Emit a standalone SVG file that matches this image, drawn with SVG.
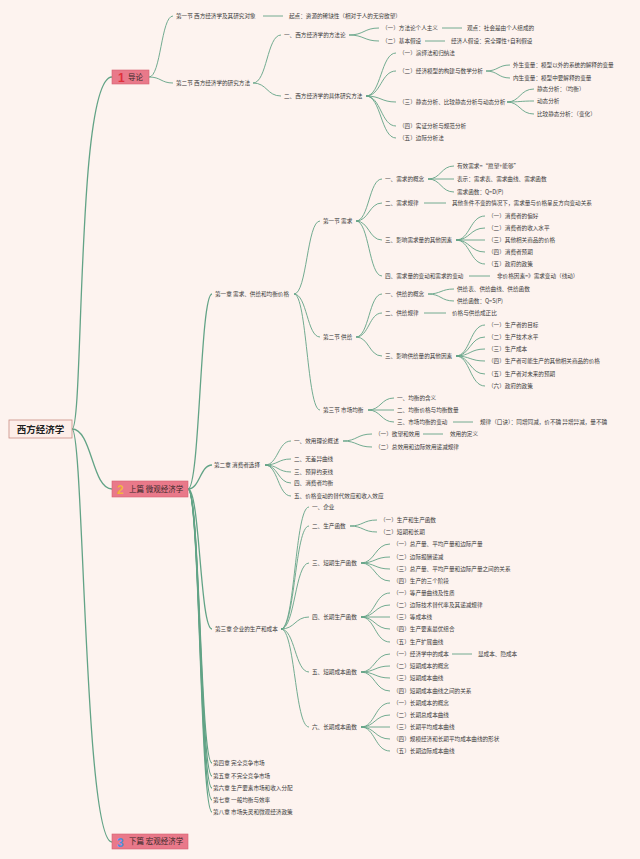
<svg xmlns="http://www.w3.org/2000/svg" width="640" height="859" viewBox="0 0 640 859">
<style>
.t{font-family:"Noto Sans CJK SC","Noto Sans",sans-serif;font-size:5.6px;fill:#3a3a3a}
.c path{fill:none;stroke:#62a386;stroke-width:0.9}
.c .k{stroke-width:1.3}
.b{fill:#e9798a;stroke:#d6606f;stroke-width:0.6}
.bt{font-family:"Noto Sans CJK SC",sans-serif;font-size:7.5px;fill:#3a2a2a}
.num{font-family:"Liberation Sans",sans-serif;font-weight:bold;font-size:12px}
.rt{font-family:"Noto Sans CJK SC",sans-serif;font-size:9.5px;font-weight:bold;fill:#222}
</style>
<rect width="640" height="859" fill="#fdf3ef"/>
<g class="c" id="connectors">
<path class="k" d="M72 429C84 429,76 77,112 77"/>
<path class="k" d="M72 429C92 429,92 489,112 489"/>
<path class="k" d="M72 429C84 429,84 842,112 842"/>
<path d="M149 77C161 77,161 16,173 16"/>
<path d="M149 77C161 77,161 83,173 83"/>
<path d="M263 16H283"/>
<path d="M253 83C267 83,267 35,281 35"/>
<path d="M253 83C267 83,267 96,281 96"/>
<path d="M349 35C364 35,364 28,379 28"/>
<path d="M349 35C364 35,364 41,379 41"/>
<path d="M442 28H462"/>
<path d="M425 41H445"/>
<path d="M366 96C381 96,381 53,396 53"/>
<path d="M366 96C381 96,381 71,396 71"/>
<path d="M366 96C381 96,381 102,396 102"/>
<path d="M366 96C381 96,381 126,396 126"/>
<path d="M366 96C381 96,381 138,396 138"/>
<path d="M486 71C498 71,498 65,510 65"/>
<path d="M486 71C498 71,498 78,510 78"/>
<path d="M507 102C520 102,520 89,534 89"/>
<path d="M507 102C520 102,520 101,534 101"/>
<path d="M507 102C520 102,520 114,534 114"/>
<path class="k" d="M188 489C200 489,200 294,212 294"/>
<path class="k" d="M188 489C200 489,200 465,212 465"/>
<path class="k" d="M188 489C200 489,200 629,212 629"/>
<path class="k" d="M188 489C200 489,200 763,212 763"/>
<path class="k" d="M188 489C200 489,200 776,212 776"/>
<path class="k" d="M188 489C200 489,200 788,212 788"/>
<path class="k" d="M188 489C200 489,200 800,212 800"/>
<path class="k" d="M188 489C200 489,200 812,212 812"/>
<path d="M294 294C307 294,307 221,320 221"/>
<path d="M294 294C307 294,307 337,320 337"/>
<path d="M294 294C307 294,307 410,320 410"/>
<path d="M356 221C369 221,369 179,382 179"/>
<path d="M356 221C369 221,369 203,382 203"/>
<path d="M356 221C369 221,369 240,382 240"/>
<path d="M356 221C369 221,369 276,382 276"/>
<path d="M428 179C441 179,441 166,454 166"/>
<path d="M428 179H454"/>
<path d="M428 179C441 179,441 192,454 192"/>
<path d="M424 203H446"/>
<path d="M456 240C470 240,470 216,485 216"/>
<path d="M456 240C470 240,470 228,485 228"/>
<path d="M456 240H485"/>
<path d="M456 240C470 240,470 252,485 252"/>
<path d="M456 240C470 240,470 264,485 264"/>
<path d="M469 276H490"/>
<path d="M356 337C369 337,369 294,382 294"/>
<path d="M356 337C369 337,369 313,382 313"/>
<path d="M356 337C369 337,369 356,382 356"/>
<path d="M428 294C441 294,441 289,454 289"/>
<path d="M428 294C441 294,441 301,454 301"/>
<path d="M424 313H446"/>
<path d="M456 356C470 356,470 325,485 325"/>
<path d="M456 356C470 356,470 337,485 337"/>
<path d="M456 356C470 356,470 349,485 349"/>
<path d="M456 356C470 356,470 361,485 361"/>
<path d="M456 356C470 356,470 374,485 374"/>
<path d="M456 356C470 356,470 386,485 386"/>
<path d="M368 410C381 410,381 398,394 398"/>
<path d="M368 410H394"/>
<path d="M368 410C381 410,381 422,394 422"/>
<path d="M453 422H473"/>
<path d="M265 465C278 465,278 441,291 441"/>
<path d="M265 465C278 465,278 459,291 459"/>
<path d="M265 465C278 465,278 472,291 472"/>
<path d="M265 465C278 465,278 483,291 483"/>
<path d="M265 465C278 465,278 496,291 496"/>
<path d="M343 441C357 441,357 434,372 434"/>
<path d="M343 441C357 441,357 447,372 447"/>
<path d="M423 434H443"/>
<path d="M281 629C295 629,295 507,309 507"/>
<path d="M281 629C295 629,295 526,309 526"/>
<path d="M281 629C295 629,295 563,309 563"/>
<path d="M281 629C295 629,295 617,309 617"/>
<path d="M281 629C295 629,295 672,309 672"/>
<path d="M281 629C295 629,295 727,309 727"/>
<path d="M350 526C363 526,363 520,377 520"/>
<path d="M350 526C363 526,363 532,377 532"/>
<path d="M361 563C375 563,375 544,390 544"/>
<path d="M361 563C375 563,375 557,390 557"/>
<path d="M361 563C375 563,375 569,390 569"/>
<path d="M361 563C375 563,375 581,390 581"/>
<path d="M361 617C375 617,375 593,390 593"/>
<path d="M361 617C375 617,375 605,390 605"/>
<path d="M361 617H390"/>
<path d="M361 617C375 617,375 629,390 629"/>
<path d="M361 617C375 617,375 642,390 642"/>
<path d="M361 672C375 672,375 654,390 654"/>
<path d="M361 672C375 672,375 666,390 666"/>
<path d="M361 672C375 672,375 678,390 678"/>
<path d="M361 672C375 672,375 691,390 691"/>
<path d="M452 654H472"/>
<path d="M361 727C375 727,375 703,390 703"/>
<path d="M361 727C375 727,375 715,390 715"/>
<path d="M361 727H390"/>
<path d="M361 727C375 727,375 739,390 739"/>
<path d="M361 727C375 727,375 751,390 751"/>
</g>
<g id="root"><rect x="9" y="420" width="63" height="18" fill="#fdeee9" stroke="#c98d84" stroke-width="0.8"/><text class="rt" x="40.5" y="432.5" text-anchor="middle">西方经济学</text></g>
<g id="part1"><rect class="b" x="112" y="70" width="37" height="14"/><text class="num" x="118" y="82" fill="#e0303c">1</text><text class="bt" x="128" y="79.8">导论</text></g>
<g id="part2"><rect class="b" x="112" y="481" width="76" height="16"/><text class="num" x="117" y="494" fill="#f2b43c">2</text><text class="bt" x="129" y="491.8">上篇 微观经济学</text></g>
<g id="part3"><rect class="b" x="112" y="834" width="76" height="15"/><text class="num" x="117" y="846.5" fill="#4f8fe0">3</text><text class="bt" x="129" y="844.3">下篇 宏观经济学</text></g>
<g id="n1"><text class="t" x="176" y="18">第一节 西方经济学及其研究对象</text></g>
<g id="n2"><text class="t" x="289" y="18">起点：资源的稀缺性（相对于人的无穷欲望）</text></g>
<g id="n3"><text class="t" x="176" y="85">第二节 西方经济学的研究方法</text></g>
<g id="n4"><text class="t" x="284" y="37">一、西方经济学的方法论</text></g>
<g id="n5"><text class="t" x="382" y="30">（一）方法论个人主义</text></g>
<g id="n6"><text class="t" x="467" y="30">观点：社会是由个人组成的</text></g>
<g id="n7"><text class="t" x="382" y="43">（二）基本假设</text></g>
<g id="n8"><text class="t" x="451" y="43">经济人假设：完全理性+自利假设</text></g>
<g id="n9"><text class="t" x="284" y="98">二、西方经济学的具体研究方法</text></g>
<g id="n10"><text class="t" x="399" y="55">（一）演绎法和归纳法</text></g>
<g id="n11"><text class="t" x="399" y="73">（二）经济模型的构建与数学分析</text></g>
<g id="n12"><text class="t" x="513" y="67">外生变量：模型以外的系统的解释的变量</text></g>
<g id="n13"><text class="t" x="513" y="80">内生变量：模型中要解释的变量</text></g>
<g id="n14"><text class="t" x="399" y="104">（三）静态分析、比较静态分析与动态分析</text></g>
<g id="n15"><text class="t" x="537" y="91">静态分析：（均衡）</text></g>
<g id="n16"><text class="t" x="537" y="103">动态分析</text></g>
<g id="n17"><text class="t" x="537" y="116">比较静态分析：（变化）</text></g>
<g id="n18"><text class="t" x="399" y="128">（四）实证分析与规范分析</text></g>
<g id="n19"><text class="t" x="399" y="140">（五）边际分析法</text></g>
<g id="n20"><text class="t" x="215" y="296">第一章 需求、供给和均衡价格</text></g>
<g id="n21"><text class="t" x="323" y="223">第一节 需求</text></g>
<g id="n22"><text class="t" x="385" y="181">一、需求的概念</text></g>
<g id="n23"><text class="t" x="457" y="168">有效需求=“愿望+能够”</text></g>
<g id="n24"><text class="t" x="457" y="181">表示：需求表、需求曲线、需求函数</text></g>
<g id="n25"><text class="t" x="457" y="194">需求函数：Q=D(P)</text></g>
<g id="n26"><text class="t" x="385" y="205">二、需求规律</text></g>
<g id="n27"><text class="t" x="452" y="205">其他条件不变的情况下，需求量与价格呈反方向变动关系</text></g>
<g id="n28"><text class="t" x="385" y="242">三、影响需求量的其他因素</text></g>
<g id="n29"><text class="t" x="488" y="218">（一）消费者的偏好</text></g>
<g id="n30"><text class="t" x="488" y="230">（二）消费者的收入水平</text></g>
<g id="n31"><text class="t" x="488" y="242">（三）其他相关商品的价格</text></g>
<g id="n32"><text class="t" x="488" y="254">（四）消费者预期</text></g>
<g id="n33"><text class="t" x="488" y="266">（五）政府的政策</text></g>
<g id="n34"><text class="t" x="385" y="278">四、需求量的变动和需求的变动</text></g>
<g id="n35"><text class="t" x="497" y="278">非价格因素=》需求变动（线动）</text></g>
<g id="n36"><text class="t" x="323" y="339">第二节 供给</text></g>
<g id="n37"><text class="t" x="385" y="296">一、供给的概念</text></g>
<g id="n38"><text class="t" x="457" y="291">供给表、供给曲线、供给函数</text></g>
<g id="n39"><text class="t" x="457" y="303">供给函数：Q=S(P)</text></g>
<g id="n40"><text class="t" x="385" y="315">二、供给规律</text></g>
<g id="n41"><text class="t" x="452" y="315">价格与供给成正比</text></g>
<g id="n42"><text class="t" x="385" y="358">三、影响供给量的其他因素</text></g>
<g id="n43"><text class="t" x="488" y="327">（一）生产者的目标</text></g>
<g id="n44"><text class="t" x="488" y="339">（二）生产技术水平</text></g>
<g id="n45"><text class="t" x="488" y="351">（三）生产成本</text></g>
<g id="n46"><text class="t" x="488" y="363">（四）生产者可能生产的其他相关商品的价格</text></g>
<g id="n47"><text class="t" x="488" y="376">（五）生产者对未来的预期</text></g>
<g id="n48"><text class="t" x="488" y="388">（六）政府的政策</text></g>
<g id="n49"><text class="t" x="323" y="412">第三节 市场均衡</text></g>
<g id="n50"><text class="t" x="397" y="400">一、均衡的含义</text></g>
<g id="n51"><text class="t" x="397" y="412">二、均衡价格与均衡数量</text></g>
<g id="n52"><text class="t" x="397" y="424">三、市场均衡的变动</text></g>
<g id="n53"><text class="t" x="480" y="424">规律（口诀）：同增同减，价不确 异增异减，量不确</text></g>
<g id="n54"><text class="t" x="214" y="467">第二章 消费者选择</text></g>
<g id="n55"><text class="t" x="294" y="443">一、效用理论概述</text></g>
<g id="n56"><text class="t" x="375" y="436">（一）欲望和效用</text></g>
<g id="n57"><text class="t" x="450" y="436">效用的定义</text></g>
<g id="n58"><text class="t" x="375" y="449">（二）总效用和边际效用递减规律</text></g>
<g id="n59"><text class="t" x="294" y="461">二、无差异曲线</text></g>
<g id="n60"><text class="t" x="294" y="474">三、预算约束线</text></g>
<g id="n61"><text class="t" x="294" y="485">四、消费者均衡</text></g>
<g id="n62"><text class="t" x="294" y="498">五、价格变动的替代效应和收入效应</text></g>
<g id="n63"><text class="t" x="215" y="631">第三章 企业的生产和成本</text></g>
<g id="n64"><text class="t" x="312" y="509">一、企业</text></g>
<g id="n65"><text class="t" x="312" y="528">二、生产函数</text></g>
<g id="n66"><text class="t" x="380" y="522">（一）生产和生产函数</text></g>
<g id="n67"><text class="t" x="380" y="534">（二）短期和长期</text></g>
<g id="n68"><text class="t" x="312" y="565">三、短期生产函数</text></g>
<g id="n69"><text class="t" x="393" y="546">（一）总产量、平均产量和边际产量</text></g>
<g id="n70"><text class="t" x="393" y="559">（二）边际报酬递减</text></g>
<g id="n71"><text class="t" x="393" y="571">（三）总产量、平均产量和边际产量之间的关系</text></g>
<g id="n72"><text class="t" x="393" y="583">（四）生产的三个阶段</text></g>
<g id="n73"><text class="t" x="312" y="619">四、长期生产函数</text></g>
<g id="n74"><text class="t" x="393" y="595">（一）等产量曲线及性质</text></g>
<g id="n75"><text class="t" x="393" y="607">（二）边际技术替代率及其递减规律</text></g>
<g id="n76"><text class="t" x="393" y="619">（三）等成本线</text></g>
<g id="n77"><text class="t" x="393" y="631">（四）生产要素最优组合</text></g>
<g id="n78"><text class="t" x="393" y="644">（五）生产扩展曲线</text></g>
<g id="n79"><text class="t" x="312" y="674">五、短期成本函数</text></g>
<g id="n80"><text class="t" x="393" y="656">（一）经济学中的成本</text></g>
<g id="n81"><text class="t" x="478" y="656">显成本、隐成本</text></g>
<g id="n82"><text class="t" x="393" y="668">（二）短期成本的概念</text></g>
<g id="n83"><text class="t" x="393" y="680">（三）短期成本曲线</text></g>
<g id="n84"><text class="t" x="393" y="693">（四）短期成本曲线之间的关系</text></g>
<g id="n85"><text class="t" x="312" y="729">六、长期成本函数</text></g>
<g id="n86"><text class="t" x="393" y="705">（一）长期成本的概念</text></g>
<g id="n87"><text class="t" x="393" y="717">（二）长期总成本曲线</text></g>
<g id="n88"><text class="t" x="393" y="729">（三）长期平均成本曲线</text></g>
<g id="n89"><text class="t" x="393" y="741">（四）规模经济和长期平均成本曲线的形状</text></g>
<g id="n90"><text class="t" x="393" y="753">（五）长期边际成本曲线</text></g>
<g id="n91"><text class="t" x="213" y="765">第四章 完全竞争市场</text></g>
<g id="n92"><text class="t" x="213" y="778">第五章 不完全竞争市场</text></g>
<g id="n93"><text class="t" x="213" y="790">第六章 生产要素市场和收入分配</text></g>
<g id="n94"><text class="t" x="213" y="802">第七章 一般均衡与效率</text></g>
<g id="n95"><text class="t" x="213" y="814">第八章 市场失灵和微观经济政策</text></g>
</svg>
